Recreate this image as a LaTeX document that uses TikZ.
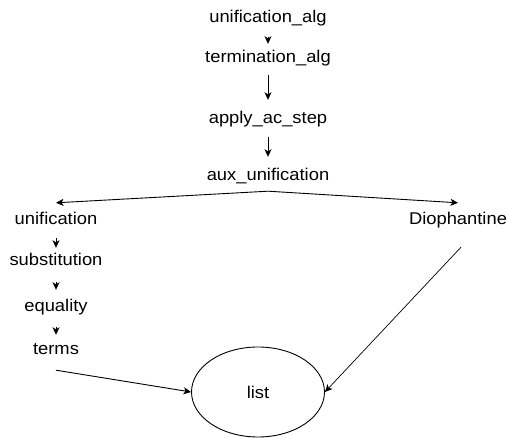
\documentclass[tikz,border=0pt]{standalone}
\usepackage{fontspec}
\setmainfont{Liberation Sans}[FakeStretch=1.08]
\usetikzlibrary{arrows.meta,shapes.geometric}

\begin{document}
\begin{tikzpicture}[x=1pt,y=-1pt,
  lbl/.style={inner sep=0pt, anchor=base, text height=12pt, text depth=3.5pt,
    font=\fontsize{17}{20}\selectfont},
  arr/.style={-{Stealth[length=7.5pt,width=7pt,inset=2pt]}, line width=0.9pt}]
\useasboundingbox (0,0) rectangle (507,438);

% main chain
\node[lbl] (ualg) at (268,23) {unification\_alg};
\node[lbl] (talg) at (268,63) {termination\_alg};
\node[lbl] (apply) at (268,124) {apply\_ac\_step};
\node[lbl] (aux) at (268,181) {aux\_unification};

\draw[arr, shorten <=10pt, shorten >=7pt] (ualg) -- (talg);
\draw[arr, shorten <=8.5pt, shorten >=12pt] (talg) -- (apply);
\draw[arr, shorten <=9.5pt, shorten >=12pt] (apply) -- (aux);

% fork
\coordinate (fork) at ([yshift=-6.5pt]aux.south);
\node[lbl] (unif) at (56,225) {unification};
\node[lbl] (dioph) at (458,225) {Diophantine};
\draw[arr] (fork) -- ([yshift=10pt]unif.north);
\draw[arr] (fork) -- ([yshift=10pt]dioph.north);

% left chain
\node[lbl] (subst) at (56,266) {substitution};
\node[lbl] (eq) at (56,312) {equality};
\node[lbl] (terms) at (56,355) {terms};

\draw[arr, shorten <=9pt, shorten >=6pt] (unif) -- (subst);
\draw[arr, shorten <=12pt, shorten >=10pt] (subst) -- (eq);
\draw[arr, shorten <=11pt, shorten >=8pt] (eq) -- (terms);

% list
\node[draw, ellipse, line width=0.9pt, inner sep=0pt, minimum width=133pt,
  minimum height=90pt, font=\fontsize{17}{20}\selectfont] (list) at (258,392) {list};

\draw[arr] ([yshift=-11.5pt]terms.south) -- (list.west);
\draw[arr, line width=0.7pt] ([xshift=3pt,yshift=-18.5pt]dioph.south) -- (list.east);
\end{tikzpicture}
\end{document}
